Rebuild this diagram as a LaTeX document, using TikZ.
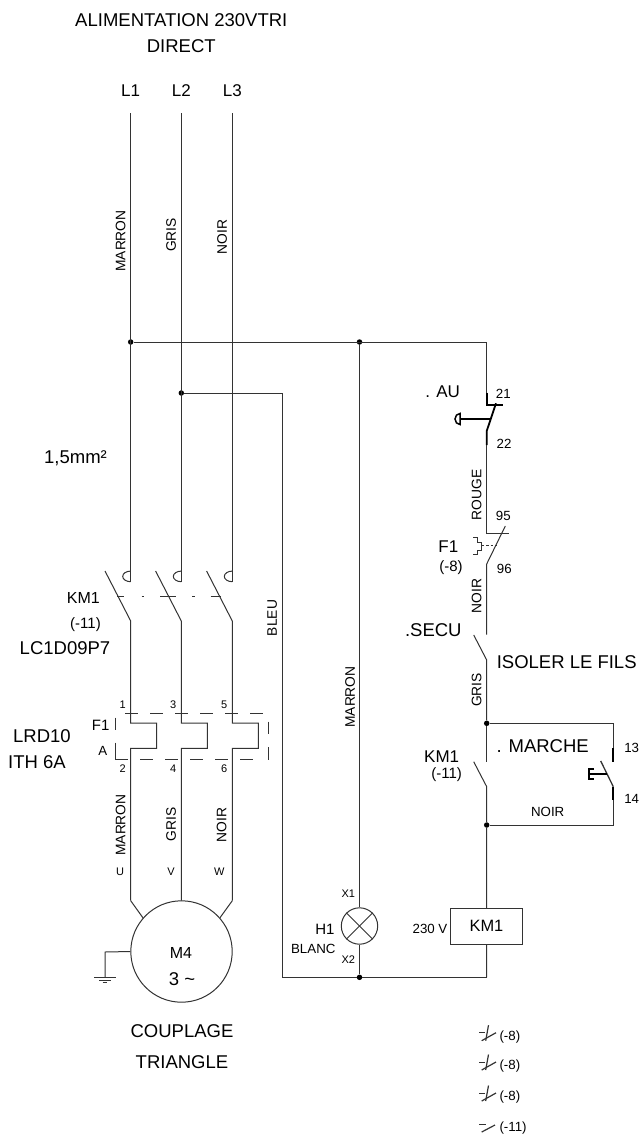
\documentclass[tikz,border=0pt]{standalone}
\usepackage{fontspec}
\setmainfont{Liberation Sans}
\usetikzlibrary{positioning}
\tikzset{
  wire/.style={draw=black!80, line width=1pt},
  thickWire/.style={draw=black, line width=1.8pt},
  boxDash/.style={draw=black!80, line width=1pt, dash pattern=on 12.5pt off 12.5pt},
  junction/.style={circle, fill=black, inner sep=0pt, minimum size=5.5pt},
  bigLab/.style={inner sep=0pt, font=\fontsize{18.5}{19}\selectfont},
  lab/.style={inner sep=0pt, font=\fontsize{17}{17}\selectfont},
  coilLab/.style={inner sep=0pt, font=\fontsize{16}{16}\selectfont},
  midLab/.style={inner sep=0pt, font=\fontsize{15}{15}\selectfont},
  smallLab/.style={inner sep=0pt, font=\fontsize{13.3}{13}\selectfont},
  tinyLab/.style={inner sep=0pt, font=\fontsize{11}{11}\selectfont},
  wireLab/.style={inner sep=0pt, rotate=90, font=\fontsize{13.8}{14}\selectfont}
}
\begin{document}
\begin{tikzpicture}[y=-1pt, x=1pt]
      \useasboundingbox (0,0) rectangle (639,1136);

      % supply
      \node[bigLab] (title) at (181.3,20) {ALIMENTATION 230VTRI};
      \node[bigLab] (direct) at (181.3,46) {DIRECT};
      \node[lab] (L1) at (130.7,91) {L1};
      \node[lab] (L2) at (181.3,91) {L2};
      \node[lab] (L3) at (232.3,91) {L3};
      \node[wireLab] (marronA) at (120.5,241) {MARRON};
      \node[wireLab] (grisA) at (171,235) {GRIS};
      \node[wireLab] (noirA) at (222,237) {NOIR};
      \node[junction] (j1) at (130.7,342) {};
      \node[junction] (j2) at (181.3,393) {};
      \node[junction] (j3) at (359.5,342) {};
      \node[junction] (j4) at (359.5,977.3) {};
      \node[junction] (j5) at (486.7,723.3) {};
      \node[junction] (j6) at (486.7,825) {};
      \coordinate (corner) at (486.7,342);
      \draw[wire] (j1) -- (corner) -- (486.7,405);
      \draw[wire] (j2) -- (282.7,393) -- (282.7,977.3) -- (j4) -- (486.7,977.3);
      \draw[wire] (130.7,113) -- (130.7,581.7);
      \draw[wire] (181.3,113) -- (181.3,581.7);
      \draw[wire] (232.3,113) -- (232.3,581.7);

      % contactor and overload
      \foreach \x/\a/\b in {130.7/1/2, 181.3/3/4, 232.3/5/6}{
        \draw[wire] (\x,581.7) arc[start angle=90, end angle=270, x radius=8, y radius=5.3];
        \draw[wire] (\x-25.7,571) -- (\x,621) -- (\x,723) -- ++(26,0) -- ++(0,25.3) -- (\x,748.3) -- (\x,900.7);
        \node[tinyLab] (top\a) at (\x-8,705) {\a};
        \node[tinyLab] (bot\b) at (\x-8,769) {\b};
      }
      \draw[wire, dash pattern=on 7pt off 17.4pt on 2.3pt off 16pt on 15.7pt off 16.6pt on 2.4pt off 16pt on 10.3pt] (117.3,596) -- (221,596);
      \draw[boxDash] (125,713) -- (263,713);
      \draw[boxDash] (115,759) -- (255,759);
      \draw[wire] (115,717.7) -- (115,730) (115,742.7) -- (115,759);
      \draw[wire] (268,721.7) -- (268,734) (268,747) -- (268,760);
      \node[coilLab] (km1a) at (83.3,598) {KM1};
      \node[midLab] (km1b) at (85.5,625) {(-11)};
      \node[bigLab] (km1c) at (65,647.7) {LC1D09P7};
      \node[bigLab] (section) at (75.5,458) {1,5mm²};
      \node[bigLab] (lrd) at (42,736) {LRD10};
      \node[bigLab] (ith) at (37,761.7) {ITH 6A};
      \node[midLab] (f1a) at (100.7,725.7) {F1};
      \node[smallLab] (aLab) at (102.7,751) {A};
      \node[wireLab] (bleu) at (272.3,618) {BLEU};

      % motor
      \node[wireLab] (marronB) at (120.7,825) {MARRON};
      \node[wireLab] (grisB) at (171,824.3) {GRIS};
      \node[wireLab] (noirB) at (221.7,825) {NOIR};
      \node[tinyLab] (uLab) at (120,871.7) {U};
      \node[tinyLab] (vLab) at (171,871.7) {V};
      \node[tinyLab] (wLab) at (219.3,871.7) {W};
      \node[circle, wire, minimum size=101.4pt, inner sep=0pt] (motor) at (181.5,951.5) {};
      \draw[wire] (130.7,900.7) -- (143.3,918.3);
      \draw[wire] (232.3,900.7) -- (220,917.7);
      \node[coilLab] (m4) at (181,953.3) {M4};
      \node[bigLab] (three) at (182,979) {3 \textasciitilde};
      \draw[wire] (motor.west) -- (105,952) -- (105,977.3);
      \draw[wire] (94,977.3) -- (116,977.3);
      \draw[wire] (99.3,980) -- (110.7,980);
      \draw[wire] (102.7,982.5) -- (107.3,982.5);
      \node[bigLab] (coupl) at (182,1031) {COUPLAGE};
      \node[bigLab] (tri) at (182,1061.7) {TRIANGLE};

      % lamp
      \node[circle, wire, minimum size=36.4pt, inner sep=0pt] (lamp) at (359.5,926) {};
      \draw[wire] (j3) -- (lamp);
      \draw[wire] (lamp) -- (j4);
      \draw[wire] (lamp.north west) -- (lamp.south east);
      \draw[wire] (lamp.north east) -- (lamp.south west);
      \node[wireLab] (marronC) at (350,697) {MARRON};
      \node[tinyLab] (x1) at (348.3,894) {X1};
      \node[tinyLab] (x2) at (348.3,959.3) {X2};
      \node[midLab] (h1) at (325,929.3) {H1};
      \node[smallLab] (blanc) at (313.3,949) {BLANC};

      % emergency stop
      \node[lab] (au) at (442.7,391.7) {. AU};
      \node[smallLab] (n21) at (503.3,394) {21};
      \node[smallLab] (n22) at (504,444) {22};
      \draw[thickWire] (486.7,392.7) -- (486.7,405) -- (502.7,405);
      \draw[thickWire] (496,403.3) -- (486.7,431) -- (486.7,445);
      \draw[thickWire] (460,419) -- (490.7,419);
      \draw[draw=black, line width=1.5pt] (460,424.5) arc[start angle=90, end angle=270, x radius=5, y radius=5.5] -- cycle;
      \draw[wire] (486.7,445) -- (486.7,533.3) -- (509.3,533.3);
      \node[wireLab] (rouge) at (476.7,495) {ROUGE};

      % overload contact
      \node[smallLab] (n95) at (503.3,516) {95};
      \node[smallLab] (n96) at (504.3,569) {96};
      \node[lab] (f1b) at (448.3,546.7) {F1};
      \node[midLab] (f1c) at (451,568) {(-8)};
      \draw[wire] (505.3,526) -- (486.7,564) -- (486.7,634.7);
      \draw[wire, dash pattern=on 2.5pt off 2pt, line width=0.5pt] (481.7,545.7) -- (496.7,545.7);
      \draw[wire] (473.3,537.3) -- (477.3,537.3) -- (477.3,542.7) -- (481.7,542.7) -- (481.7,550) -- (477.3,550) -- (477.3,554) -- (473.3,554);
      \node[wireLab] (noirC) at (476.7,596) {NOIR};

      % safety switch
      \node[bigLab] (secu) at (433.3,630) {.SECU};
      \node[bigLab] (iso) at (566.7,661.7) {ISOLER LE FILS};
      \draw[wire] (473.7,635) -- (486.7,660) -- (j5);
      \node[wireLab] (grisC) at (476.7,690) {GRIS};

      % hold-in contact and start button
      \node[lab] (km1d) at (441.7,757) {KM1};
      \node[midLab] (km1e) at (446.7,775) {(-11)};
      \node[bigLab] (marche) at (542.7,746) {. MARCHE};
      \node[smallLab] (n13) at (631.7,748) {13};
      \node[smallLab] (n14) at (631.7,799) {14};
      \node[smallLab] (noirD) at (547.7,811.7) {NOIR};
      \draw[wire] (j5) -- (486.7,761.7);
      \draw[wire] (473.7,761.7) -- (486.7,786.7) -- (j6);
      \draw[wire] (j5) -- (613.3,723.3) -- (613.3,748.3);
      \draw[thickWire] (613.3,748.3) -- (613.3,761.7);
      \draw[wire, line width=1.3pt] (600.7,761) -- (613.3,786.7);
      \draw[thickWire] (613.3,786.7) -- (613.3,800);
      \draw[wire] (613.3,800) -- (613.3,825) -- (j6);
      \draw[thickWire] (606.7,774) -- (589,774);
      \draw[thickWire] (594,769.3) -- (589,769.3) -- (589,779) -- (594,779);

      % coil
      \node[draw=black!80, line width=1pt, minimum width=71.6pt, minimum height=35.7pt, inner sep=0pt, font=\fontsize{16.4}{16}\selectfont] (coil) at (486.5,926.2) {KM1};
      \draw[wire] (j6) -- (coil);
      \draw[wire] (coil) -- (486.7,977.3);
      \node[smallLab] (v230) at (430,929.3) {230 V};

      % auxiliary contacts list
      \foreach \y/\n in {1036.7/a, 1066/b, 1097/c}{
        \draw[wire] (479,\y-4) -- (485,\y-4);
        \draw[wire, line width=1.2pt] (481.7,\y+4) -- (496,\y-4);
        \draw[wire, line width=1.2pt] (488.5,\y-11.5) -- (485.7,\y+4);
        \node[smallLab, anchor=west] (aux\n) at (499.3,\y) {(-8)};
      }
      \draw[wire] (479,1124.3) -- (485.7,1124.3);
      \draw[wire, line width=1.2pt] (481.7,1132) -- (495,1125);
      \node[smallLab, anchor=west] (auxd) at (499.3,1128) {(-11)};
\end{tikzpicture}
\end{document}
